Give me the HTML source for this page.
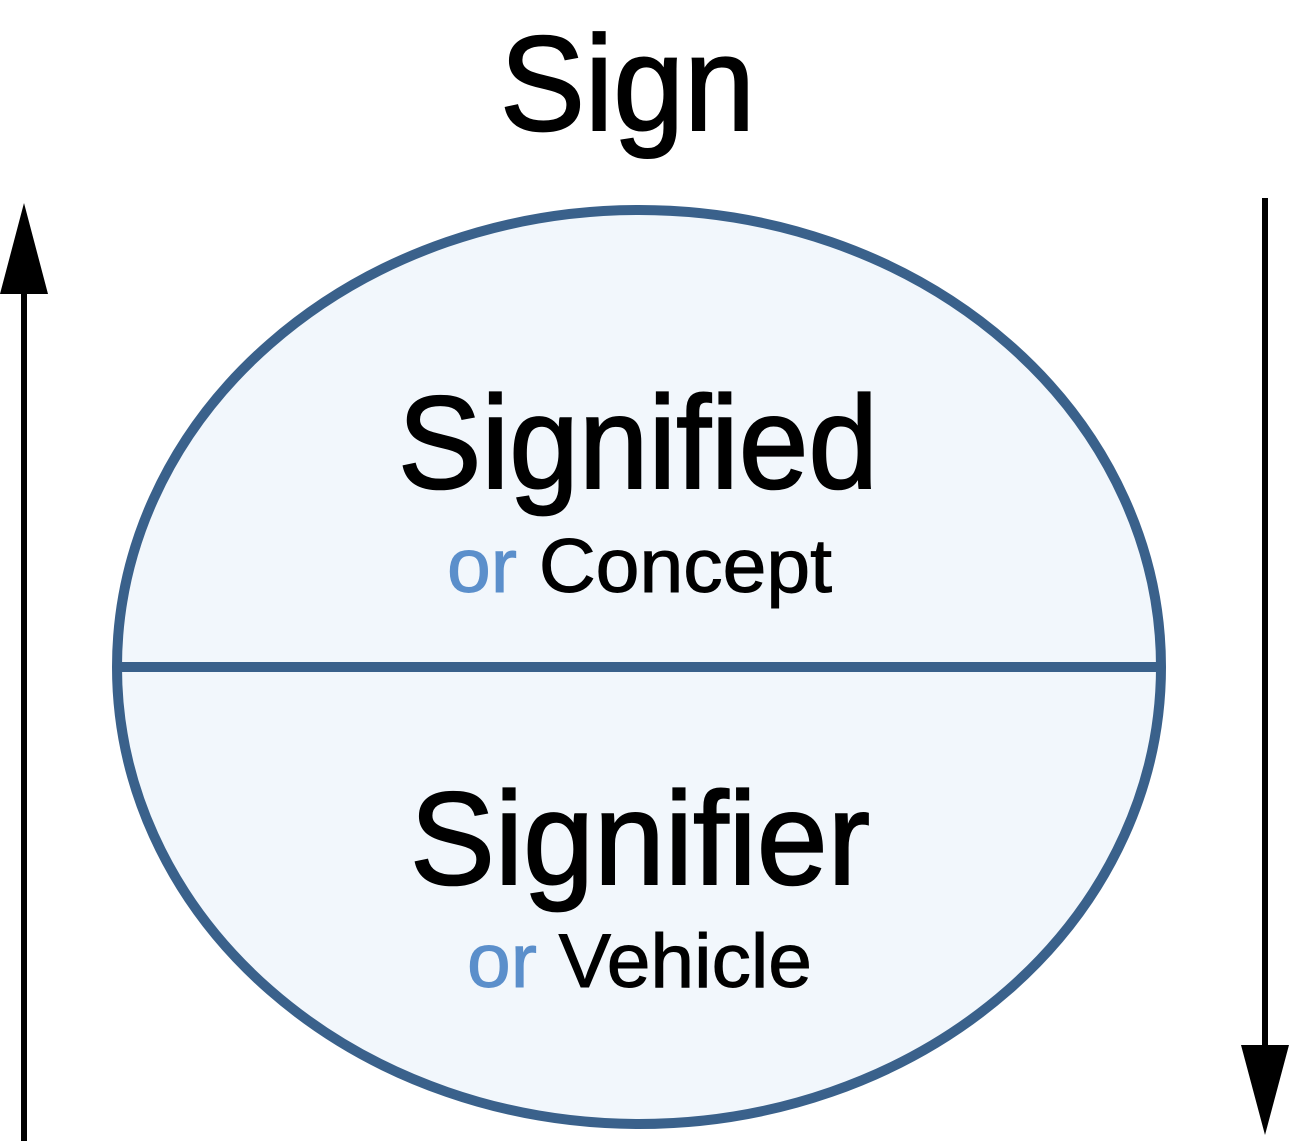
<!DOCTYPE html>
<html><head><meta charset="utf-8"><style>html,body{margin:0;padding:0;background:#fff}svg{display:block}</style></head>
<body>
<svg width="1289" height="1141" viewBox="0 0 1289 1141" xmlns="http://www.w3.org/2000/svg" font-family="'Liberation Sans', sans-serif">
<ellipse cx="639" cy="667" rx="522" ry="457" fill="#f2f7fc" stroke="#3a618b" stroke-width="10"/>
<line x1="117" y1="667" x2="1161" y2="667" stroke="#3a618b" stroke-width="10"/>
<line x1="24" y1="1141" x2="24" y2="285" stroke="#000" stroke-width="6"/>
<polygon points="24,203 0,294 48,294" fill="#000"/>
<line x1="1265" y1="198" x2="1265" y2="1050" stroke="#000" stroke-width="6"/>
<polygon points="1265,1135 1241,1045 1289,1045" fill="#000"/>
<g stroke="#000" stroke-width="2">
<text x="500" y="130" font-size="135" textLength="255" lengthAdjust="spacingAndGlyphs">Sign</text>
<text x="398" y="488" font-size="132" textLength="480" lengthAdjust="spacingAndGlyphs">Signified</text>
<text x="410" y="884" font-size="132" textLength="460" lengthAdjust="spacingAndGlyphs">Signifier</text>
</g>
<g stroke-width="1">
<text x="447" y="592" font-size="76" textLength="385" lengthAdjust="spacingAndGlyphs" stroke="#000"><tspan fill="#5b8fcb" stroke="#5b8fcb">or</tspan> Concept</text>
<text x="467" y="987" font-size="76" textLength="345" lengthAdjust="spacingAndGlyphs" stroke="#000"><tspan fill="#5b8fcb" stroke="#5b8fcb">or</tspan> Vehicle</text>
</g>
</svg>
</body></html>
